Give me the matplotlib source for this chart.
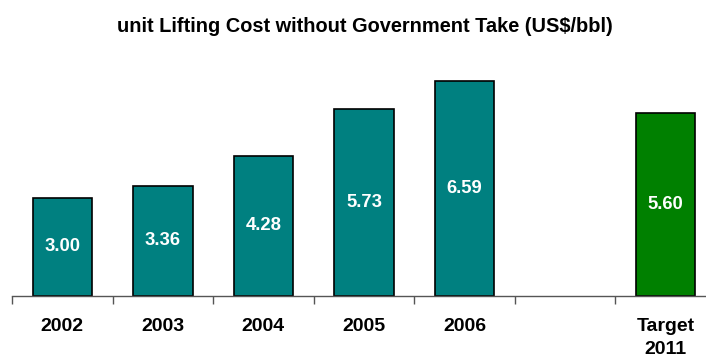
import matplotlib
matplotlib.use("Agg")
from matplotlib import pyplot as plt
from matplotlib.transforms import offset_copy

plt.rcParams['font.family'] = ['Liberation Sans', 'DejaVu Sans']

categories = ["2002", "2003", "2004", "2005", "2006", "", "Target\n2011"]
values = [3.00, 3.36, 4.28, 5.73, 6.59, None, 5.60]
bar_colors = ["#008080", "#008080", "#008080", "#008080", "#008080", None, "#008000"]

W, H = 706, 356
fig = plt.figure(figsize=(W / 100, H / 100), dpi=100)
# plot area: x from 12px (slightly past right edge), baseline at y=295px
ax = fig.add_axes([12 / W, (H - 295.5) / H, 704 / W, 8 * 32.6 / H])

xs = list(range(len(categories)))
for x, v, c in zip(xs, values, bar_colors):
    if v is None:
        continue
    ax.bar(x, v, width=0.59, color=c, edgecolor="black", linewidth=1.2, zorder=2)
    ax.text(x, v / 2, f"{v:.2f}", ha="center", va="center", color="white",
            fontsize=13.3, fontweight="bold", zorder=3)

ax.set_xlim(-0.5, len(categories) - 0.5)
ax.set_ylim(0, 8)
ax.set_yticks([])
for s in ["top", "right", "left"]:
    ax.spines[s].set_visible(False)
ax.spines["bottom"].set_color("#555555")
ax.spines["bottom"].set_linewidth(1)

# ticks sit on category boundaries, labels in the middle
ax.set_xticks([i - 0.5 for i in range(len(categories) + 1)])
ax.set_xticklabels([])
ax.tick_params(axis="x", direction="out", length=6, color="#555555", width=1)
for x, lab in zip(xs, categories):
    for k, line in enumerate(lab.split("\n")):
        tr = offset_copy(ax.transData, fig=fig, x=0, y=-(35.5 + 23.5 * k), units="dots")
        ax.text(x, 0, line, ha="center", va="baseline", fontsize=14,
                fontweight="bold", transform=tr, clip_on=False)

fig.text(365 / W, 1 - 27 / H, "unit Lifting Cost without Government Take (US$/bbl)",
         ha="center", va="center", fontsize=14.4, fontweight="bold")

fig.savefig("out.png", dpi=100)
